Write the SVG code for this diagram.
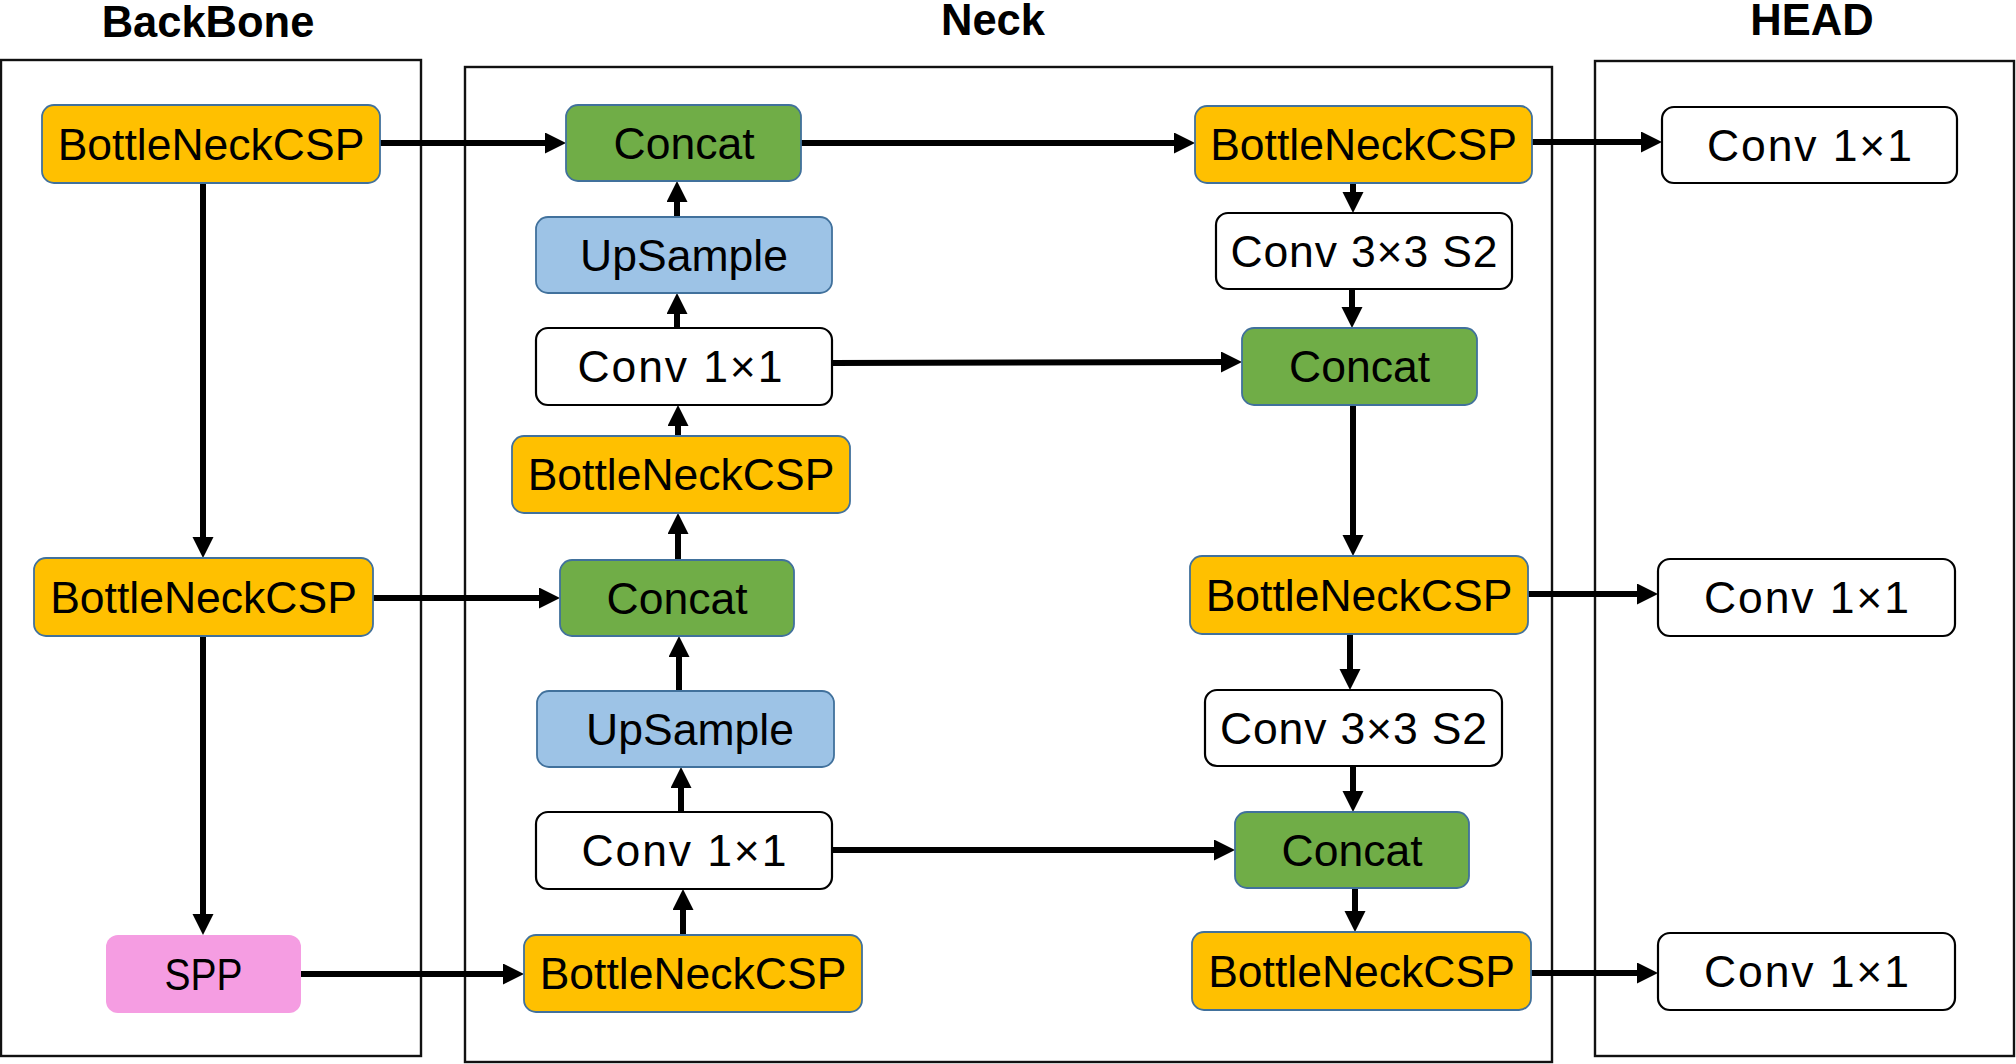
<svg xmlns="http://www.w3.org/2000/svg" width="2016" height="1064" viewBox="0 0 2016 1064">
<style>
.bg{fill:#ffffff}
.panel{fill:none;stroke:#111;stroke-width:2.4}
.title{font-family:"Liberation Sans",Arial,sans-serif;font-weight:bold;font-size:43.5px;fill:#000;text-anchor:middle}
.lbl{font-family:"Liberation Sans",Arial,sans-serif;font-size:44.5px;fill:#000;text-anchor:middle}
.csp{fill:#FFC000;stroke:#41719C;stroke-width:1.8}
.cat{fill:#70AD47;stroke:#41719C;stroke-width:1.8}
.up{fill:#9DC3E6;stroke:#41719C;stroke-width:1.8}
.conv{fill:#ffffff;stroke:#000;stroke-width:2.2}
.spp{fill:#F59DE2;stroke:none}
.edge{fill:none;stroke:#000;stroke-width:6;marker-end:url(#arr)}
</style>
<defs>
<marker id="arr" markerUnits="userSpaceOnUse" markerWidth="22" markerHeight="22" refX="10" refY="10.5" orient="auto">
<path d="M0,0 L21,10.5 L0,21 z" fill="#000"/>
</marker>
</defs>
<rect class="bg" x="0" y="0" width="2016" height="1064"/>

<g id="panels">
<rect class="panel" x="1" y="60" width="420" height="996"/>
<rect class="panel" x="465" y="67" width="1087" height="995"/>
<rect class="panel" x="1595" y="61" width="419" height="995"/>
<text class="title" x="208" y="37">BackBone</text>
<text class="title" x="993" y="35">Neck</text>
<text class="title" x="1812" y="35">HEAD</text>
</g>

<g id="connectors">
<line class="edge" x1="380" y1="143" x2="555" y2="143"/>
<line class="edge" x1="203" y1="183" x2="203" y2="547"/>
<line class="edge" x1="203" y1="636" x2="203" y2="924"/>
<line class="edge" x1="373" y1="598" x2="549" y2="598"/>
<line class="edge" x1="301" y1="974" x2="513" y2="974"/>
<line class="edge" x1="683" y1="935" x2="683" y2="900"/>
<line class="edge" x1="681" y1="812" x2="681" y2="778"/>
<line class="edge" x1="679" y1="691" x2="679" y2="647"/>
<line class="edge" x1="678" y1="560" x2="678" y2="524"/>
<line class="edge" x1="678" y1="436" x2="678" y2="416"/>
<line class="edge" x1="677" y1="328" x2="677" y2="304"/>
<line class="edge" x1="677" y1="217" x2="677" y2="192"/>
<line class="edge" x1="801" y1="143" x2="1184" y2="143"/>
<line class="edge" x1="832" y1="363" x2="1231" y2="362"/>
<line class="edge" x1="832" y1="850" x2="1224" y2="850"/>
<line class="edge" x1="1353" y1="183" x2="1353" y2="202"/>
<line class="edge" x1="1352" y1="289" x2="1352" y2="317"/>
<line class="edge" x1="1353" y1="405" x2="1353" y2="545"/>
<line class="edge" x1="1350" y1="634" x2="1350" y2="679"/>
<line class="edge" x1="1353" y1="766" x2="1353" y2="801"/>
<line class="edge" x1="1355" y1="888" x2="1355" y2="921"/>
<line class="edge" x1="1532" y1="142" x2="1651" y2="142"/>
<line class="edge" x1="1528" y1="594" x2="1647" y2="594"/>
<line class="edge" x1="1531" y1="973" x2="1647" y2="973"/>
</g>

<g id="bb_csp1"><rect class="csp" x="42" y="105" width="338" height="78" rx="12"/><text class="lbl" x="211" y="160">BottleNeckCSP</text></g>
<g id="bb_csp2"><rect class="csp" x="34" y="558" width="339" height="78" rx="12"/><text class="lbl" x="203.5" y="613">BottleNeckCSP</text></g>
<g id="bb_spp"><rect class="spp" x="106" y="935" width="195" height="78" rx="12"/><text class="lbl" x="203.5" y="990" textLength="78" lengthAdjust="spacingAndGlyphs">SPP</text></g>

<g id="n_concat1"><rect class="cat" x="566" y="105" width="235" height="76" rx="12"/><text class="lbl" x="684" y="159">Concat</text></g>
<g id="n_up1"><rect class="up" x="536" y="217" width="296" height="76" rx="12"/><text class="lbl" x="684" y="271">UpSample</text></g>
<g id="n_conv1"><rect class="conv" x="536" y="328" width="296" height="77" rx="12"/><text class="lbl" x="680" y="382" textLength="205">Conv 1×1</text></g>
<g id="n_csp1"><rect class="csp" x="512" y="436" width="338" height="77" rx="12"/><text class="lbl" x="681" y="490">BottleNeckCSP</text></g>
<g id="n_concat2"><rect class="cat" x="560" y="560" width="234" height="76" rx="12"/><text class="lbl" x="677" y="614">Concat</text></g>
<g id="n_up2"><rect class="up" x="537" y="691" width="297" height="76" rx="12"/><text class="lbl" x="690" y="745">UpSample</text></g>
<g id="n_conv2"><rect class="conv" x="536" y="812" width="296" height="77" rx="12"/><text class="lbl" x="684" y="866" textLength="205">Conv 1×1</text></g>
<g id="n_csp2"><rect class="csp" x="524" y="935" width="338" height="77" rx="12"/><text class="lbl" x="693" y="989">BottleNeckCSP</text></g>

<g id="r_csp1"><rect class="csp" x="1195" y="106" width="337" height="77" rx="12"/><text class="lbl" x="1363.5" y="160">BottleNeckCSP</text></g>
<g id="r_conv1"><rect class="conv" x="1216" y="213" width="296" height="76" rx="12"/><text class="lbl" x="1364" y="267" textLength="267">Conv 3×3 S2</text></g>
<g id="r_concat1"><rect class="cat" x="1242" y="328" width="235" height="77" rx="12"/><text class="lbl" x="1359.5" y="382">Concat</text></g>
<g id="r_csp2"><rect class="csp" x="1190" y="556" width="338" height="78" rx="12"/><text class="lbl" x="1359" y="611">BottleNeckCSP</text></g>
<g id="r_conv2"><rect class="conv" x="1205" y="690" width="297" height="76" rx="12"/><text class="lbl" x="1353.5" y="744" textLength="267">Conv 3×3 S2</text></g>
<g id="r_concat2"><rect class="cat" x="1235" y="812" width="234" height="76" rx="12"/><text class="lbl" x="1352" y="866">Concat</text></g>
<g id="r_csp3"><rect class="csp" x="1192" y="932" width="339" height="78" rx="12"/><text class="lbl" x="1361.5" y="987">BottleNeckCSP</text></g>

<g id="h_conv1"><rect class="conv" x="1662" y="107" width="295" height="76" rx="12"/><text class="lbl" x="1809.5" y="161" textLength="205">Conv 1×1</text></g>
<g id="h_conv2"><rect class="conv" x="1658" y="559" width="297" height="77" rx="12"/><text class="lbl" x="1806.5" y="613" textLength="205">Conv 1×1</text></g>
<g id="h_conv3"><rect class="conv" x="1658" y="933" width="297" height="77" rx="12"/><text class="lbl" x="1806.5" y="987" textLength="205">Conv 1×1</text></g>
</svg>
